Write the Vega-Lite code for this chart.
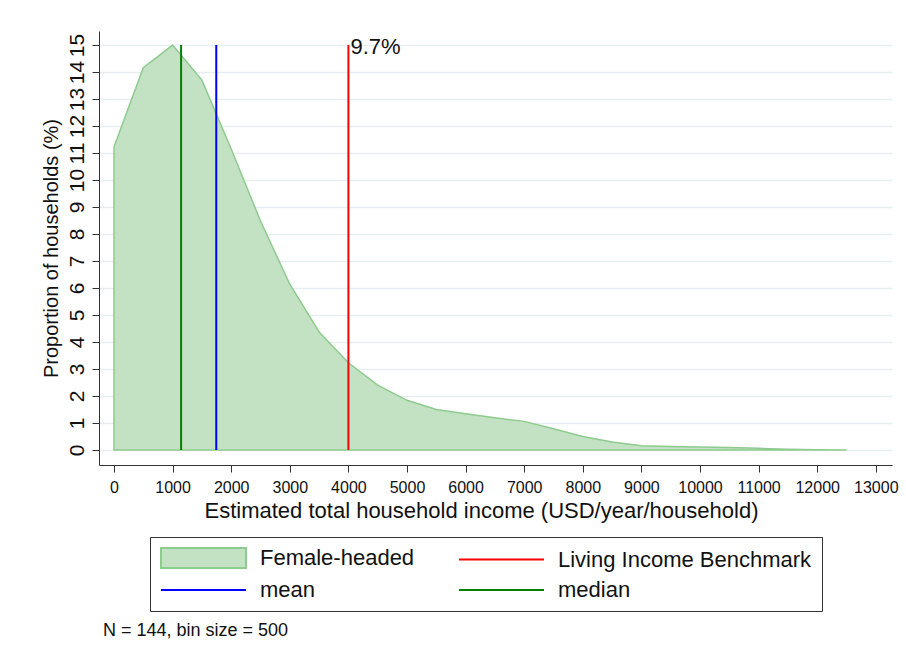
{
  "$schema": "https://vega.github.io/schema/vega-lite/v6.json",
  "width": 793,
  "height": 434,
  "padding": {"left": 99, "top": 31, "right": 14, "bottom": 198},
  "autosize": {"type": "none"},
  "background": "white",
  "config": {
    "view": {"stroke": null},
    "font": "Liberation Sans",
    "axis": {"labelFont": "Liberation Sans", "titleFont": "Liberation Sans", "labelColor": "#111", "titleColor": "#111", "titleFontWeight": "normal", "domainColor": "#333", "tickColor": "#333"}
  },
  "title": {
    "text": "N = 144, bin size = 500",
    "orient": "bottom",
    "anchor": "start",
    "frame": "group",
    "fontSize": 18,
    "fontWeight": "normal",
    "color": "#111",
    "dx": 4,
    "offset": 10
  },
  "datasets": {
    "density": [
      {"income": 0, "pct": 11.22},
      {"income": 500, "pct": 14.16},
      {"income": 1000, "pct": 15.0},
      {"income": 1500, "pct": 13.7},
      {"income": 2000, "pct": 11.15},
      {"income": 2500, "pct": 8.48},
      {"income": 3000, "pct": 6.14},
      {"income": 3500, "pct": 4.37},
      {"income": 4000, "pct": 3.23},
      {"income": 4500, "pct": 2.4},
      {"income": 5000, "pct": 1.84},
      {"income": 5500, "pct": 1.5},
      {"income": 6000, "pct": 1.34},
      {"income": 6500, "pct": 1.19},
      {"income": 7000, "pct": 1.06},
      {"income": 7500, "pct": 0.79},
      {"income": 8000, "pct": 0.5},
      {"income": 8500, "pct": 0.3},
      {"income": 9000, "pct": 0.16},
      {"income": 9500, "pct": 0.125},
      {"income": 10000, "pct": 0.11},
      {"income": 10500, "pct": 0.09},
      {"income": 11000, "pct": 0.06},
      {"income": 11500, "pct": 0.03},
      {"income": 12000, "pct": 0.01},
      {"income": 12500, "pct": 0}
    ],
    "lines": [
      {"series": "Living Income Benchmark", "income": 4000, "pct": 0, "pct_top": 15},
      {"series": "mean", "income": 1745, "pct": 0, "pct_top": 15},
      {"series": "median", "income": 1145, "pct": 0, "pct_top": 15}
    ],
    "labels": [
      {"income": 4000, "pct": 15, "label": "9.7%"}
    ]
  },
  "encoding": {
    "x": {
      "field": "income", "type": "quantitative",
      "scale": {"domain": [-256, 13276], "nice": false, "zero": false},
      "axis": {
        "values": [0,1000,2000,3000,4000,5000,6000,7000,8000,9000,10000,11000,12000,13000],
        "format": "d",
        "grid": false,
        "tickSize": 7,
        "labelFontSize": 16,
        "labelPadding": 7,
        "labelFlush": false,
        "labelOverlap": false,
        "title": "Estimated total household income (USD/year/household)",
        "titleFontSize": 22,
        "titlePadding": 5,
        "titleX": 382
      }
    },
    "y": {
      "field": "pct", "type": "quantitative",
      "scale": {"domain": [-0.556, 15.52], "nice": false, "zero": false},
      "axis": {
        "values": [0,1,2,3,4,5,6,7,8,9,10,11,12,13,14,15],
        "tickCount": 16,
        "grid": true,
        "gridColor": "#e6eef1",
        "gridWidth": 1.5,
        "tickSize": 7,
        "labelAngle": -90,
        "labelAlign": "center",
        "labelBaseline": "alphabetic",
        "labelFontSize": 21,
        "labelPadding": 9,
        "labelFlush": false,
        "labelOverlap": false,
        "title": "Proportion of households (%)",
        "titleFontSize": 20,
        "titleX": -42,
        "titleBaseline": "alphabetic"
      }
    }
  },
  "layer": [
    {
      "data": {"name": "density"},
      "mark": {"type": "area", "fill": "#c3e1c3", "stroke": "#8ecb8e", "strokeWidth": 1.5, "opacity": 1}
    },
    {
      "data": {"name": "lines"},
      "mark": {"type": "rule", "strokeWidth": 2},
      "encoding": {
        "y2": {"field": "pct_top"},
        "color": {
          "field": "series", "type": "nominal",
          "scale": {
            "domain": ["Female-headed", "Living Income Benchmark", "mean", "median"],
            "range": ["#8ecb8e", "#ff0000", "#0000ff", "#008000"]
          },
          "legend": {
            "title": null,
            "orient": "none",
            "direction": "horizontal",
            "legendX": 51,
            "legendY": 506,
            "columns": 2,
            "columnPadding": 40,
            "rowPadding": 7,
            "padding": 10,
            "strokeColor": "#333",
            "fillColor": "white",
            "labelFontSize": 22,
            "labelColor": "#111",
            "labelFont": "Liberation Sans",
            "labelLimit": 400,
            "labelOffset": 78,
            "symbolSize": 400,
            "symbolStrokeWidth": 2,
            "symbolType": "M-1,0H7.5",
            "encode": {
              "symbols": {
                "update": {
                  "shape": {"signal": "datum.value === 'Female-headed' ? 'M-1,-1H7.5V1H-1Z' : 'M-1,0H7.5'"},
                  "fill": {"signal": "datum.value === 'Female-headed' ? '#c3e1c3' : 'transparent'"},
                  "stroke": {"signal": "datum.value === 'Female-headed' ? '#8ecb8e' : datum.value === 'mean' ? '#0000ff' : datum.value === 'median' ? '#008000' : '#ff0000'"},
                  "opacity": {"value": 1}
                }
              }
            }
          }
        }
      }
    },
    {
      "data": {"name": "labels"},
      "mark": {"type": "text", "align": "left", "baseline": "middle", "dx": 2, "dy": 2, "fontSize": 22, "color": "#111"},
      "encoding": {
        "text": {"field": "label"}
      }
    }
  ]
}
